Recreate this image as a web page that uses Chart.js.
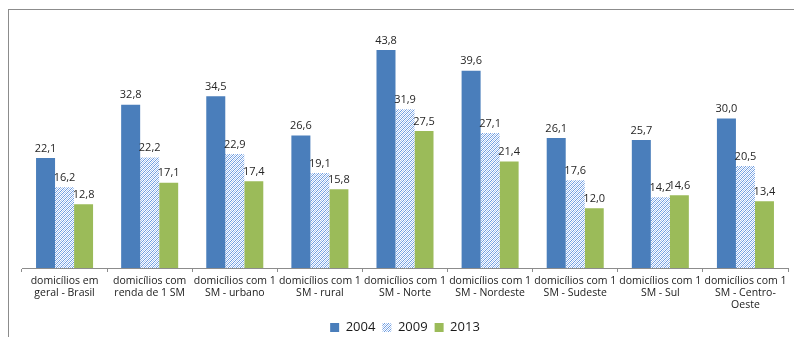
<!DOCTYPE html>
<html lang="pt">
<head>
<meta charset="UTF-8">
<title>Domicílios com 1 SM</title>
<script src="https://cdn.jsdelivr.net/npm/chart.js"></script>
<style>
    * { margin: 0; padding: 0; box-sizing: border-box; }
    body { width: 794px; height: 337px; background: #fff; position: relative; overflow: hidden; }
    /* frame: only top and left edges are visible */
    .frame {
        position: absolute; left: 8px; top: 9px; width: 786px; height: 328px;
        border-top: 1px solid #8c8c8c; border-left: 1px solid #8c8c8c;
    }
    .wrap { position: absolute; left: 0; top: 0; width: 794px; height: 337px; }
</style>
</head>
<body>
<div class="frame"></div>
<div class="wrap"><canvas id="chart"></canvas></div>
<script>
    const categories = [
        ['domicílios em', 'geral - Brasil'],
        ['domicílios com', 'renda de 1 SM'],
        ['domicílios com 1', 'SM - urbano'],
        ['domicílios com 1', 'SM - rural'],
        ['domicílios com 1', 'SM - Norte'],
        ['domicílios com 1', 'SM - Nordeste'],
        ['domicílios com 1', 'SM - Sudeste'],
        ['domicílios com 1', 'SM - Sul'],
        ['domicílios com 1', 'SM - Centro-', 'Oeste']
    ];
    const years = ['2004', '2009', '2013'];
    const values2004 = [22.1, 32.8, 34.5, 26.6, 43.8, 39.6, 26.1, 25.7, 30.0];
    const values2009 = [16.2, 22.2, 22.9, 19.1, 31.9, 27.1, 17.6, 14.2, 20.5];
    const values2013 = [12.8, 17.1, 17.4, 15.8, 27.5, 21.4, 12.0, 14.6, 13.4];

    // light blue dotted diagonal fill for the 2009 series
    function hatch() {
        const c = document.createElement('canvas');
        c.width = 4; c.height = 4;
        const g = c.getContext('2d');
        g.fillStyle = '#ffffff';
        g.fillRect(0, 0, 4, 4);
        g.fillStyle = '#6a9ae0';
        [[0, 3], [1, 2], [2, 1], [3, 0]].forEach(p => g.fillRect(p[0], p[1], 1, 1));
        g.fillStyle = '#aac6f0';
        [[0, 1], [1, 0], [2, 3], [3, 2]].forEach(p => g.fillRect(p[0], p[1], 1, 1));
        return g.createPattern(c, 'repeat');
    }

    // value labels above each bar, decimal comma
    const valueLabels = {
        id: 'valueLabels',
        afterDatasetsDraw(chart) {
            const ctx = chart.ctx;
            ctx.save();
            ctx.font = '11px "Open Sans", sans-serif';
            ctx.fillStyle = '#262626';
            ctx.textAlign = 'center';
            ctx.textBaseline = 'bottom';
            chart.data.datasets.forEach((ds, i) => {
                chart.getDatasetMeta(i).data.forEach((bar, j) => {
                    ctx.fillText(ds.data[j].toFixed(1).replace('.', ','), bar.x, bar.y - 4);
                });
            });
            ctx.restore();
        }
    };

    new Chart(document.getElementById('chart'), {
        type: 'bar',
        data: {
            labels: categories,
            datasets: [
                { label: years[0], data: values2004, backgroundColor: '#4a7ebb' },
                { label: years[1], data: values2009, backgroundColor: hatch() },
                { label: years[2], data: values2013, backgroundColor: '#9bbb59' }
            ]
        },
        options: {
            responsive: true,
            maintainAspectRatio: false,
            animation: false,
            layout: { padding: { left: 22, right: 6, top: 19, bottom: -7 } },
            datasets: { bar: { barPercentage: 1, categoryPercentage: 0.67 } },
            scales: {
                x: {
                    grid: { display: true, drawOnChartArea: false, drawTicks: true, tickLength: 4, color: '#8c8c8c', offset: true },
                    border: { display: true, color: '#8c8c8c' },
                    ticks: {
                        autoSkip: false, maxRotation: 0, minRotation: 0, padding: 3,
                        color: '#1a1a1a', font: { family: '"Open Sans", sans-serif', size: 10.5, lineHeight: '12px' }
                    }
                },
                y: { display: false, min: 0, max: 50 }
            },
            plugins: {
                legend: {
                    position: 'bottom',
                    labels: {
                        boxWidth: 9, boxHeight: 9, padding: 7, color: '#1a1a1a',
                        font: { family: '"Open Sans", sans-serif', size: 13 }
                    }
                },
                tooltip: { enabled: false }
            }
        },
        plugins: [valueLabels]
    });
</script>
</body>
</html>
